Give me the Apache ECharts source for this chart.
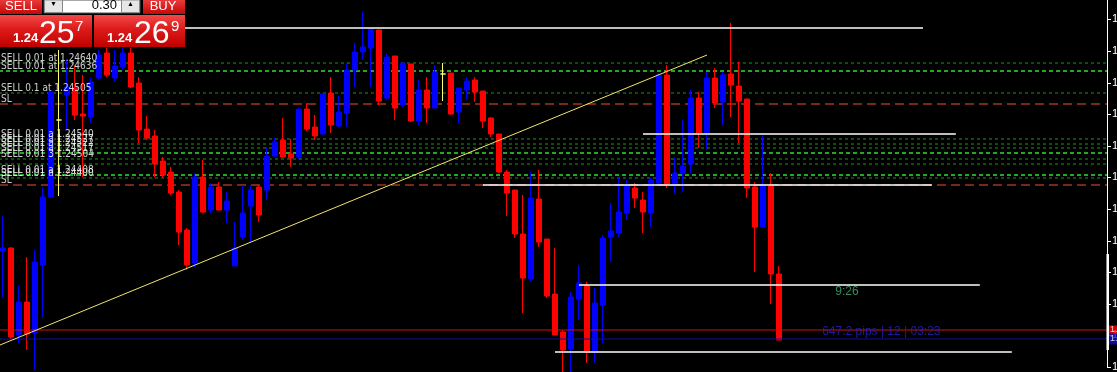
<!DOCTYPE html>
<html><head><meta charset="utf-8">
<script src="https://cdn.jsdelivr.net/npm/echarts@6/dist/echarts.min.js"></script>
<style>html,body{margin:0;padding:0;background:#000;}#c{width:1117px;height:372px;}</style>
</head><body><div id="c"></div>
<script>
// ---- candle data (bar index = position in arrays) ----
const opens  = [1.24349,1.24352,1.24265,1.24298,1.24267,1.24335,1.24403,1.24480,1.24505,1.24512,
1.24486,1.24483,1.24522,1.24547,1.24522,1.24533,1.24547,1.24517,1.24471,1.24464,
1.24439,1.24428,1.24408,1.24370,1.24337,1.24423,1.24390,1.24413,1.24390,1.24334,
1.24363,1.24394,1.24413,1.24410,1.24444,1.24460,1.24446,1.24443,1.24491,1.24473,
1.24466,1.24507,1.24474,1.24487,1.24530,1.24548,1.24552,1.24570,1.24502,1.24544,
1.24495,1.24536,1.24479,1.24510,1.24492,1.24526,1.24527,1.24488,1.24510,1.24520,
1.24509,1.24482,1.24466,1.24428,1.24410,1.24366,1.24321,1.24401,1.24361,1.24306,
1.24268,1.24251,1.24301,1.24314,1.24248,1.24295,1.24363,1.24367,1.24387,1.24412,
1.24400,1.24387,1.24417,1.24525,1.24416,1.24427,1.24436,1.24502,1.24467,1.24522,
1.24498,1.24526,1.24514,1.24501,1.24413,1.24373,1.24414,1.24326];
const closes = [1.24352,1.24263,1.24298,1.24266,1.24338,1.24403,1.24508,1.24480,1.24513,1.24485,
1.24484,1.24518,1.24545,1.24525,1.24534,1.24547,1.24513,1.24470,1.24462,1.24436,
1.24425,1.24407,1.24368,1.24335,1.24423,1.24388,1.24413,1.24390,1.24399,1.24352,
1.24387,1.24410,1.24385,1.24444,1.24458,1.24443,1.24442,1.24491,1.24471,1.24464,
1.24506,1.24475,1.24488,1.24530,1.24548,1.24553,1.24571,1.24499,1.24543,1.24492,
1.24537,1.24479,1.24510,1.24492,1.24528,1.24526,1.24486,1.24512,1.24519,1.24508,
1.24479,1.24466,1.24428,1.24407,1.24366,1.24322,1.24402,1.24358,1.24304,1.24265,
1.24250,1.24303,1.24317,1.24248,1.24297,1.24362,1.24369,1.24388,1.24414,1.24402,
1.24388,1.24420,1.24525,1.24416,1.24427,1.24434,1.24502,1.24467,1.24522,1.24497,
1.24525,1.24515,1.24499,1.24412,1.24373,1.24415,1.24326,1.24260];
const lows   = [1.24302,1.24261,1.24257,1.24250,1.24230,1.24282,1.24402,1.24404,1.24470,1.24480,
1.24423,1.24477,1.24520,1.24523,1.24518,1.24530,1.24512,1.24457,1.24460,1.24423,
1.24423,1.24405,1.24355,1.24330,1.24333,1.24387,1.24387,1.24390,1.24377,1.24334,
1.24360,1.24357,1.24378,1.24400,1.24443,1.24442,1.24433,1.24441,1.24469,1.24460,
1.24465,1.24467,1.24473,1.24473,1.24513,1.24540,1.24513,1.24495,1.24500,1.24480,
1.24493,1.24478,1.24475,1.24477,1.24492,1.24499,1.24485,1.24477,1.24500,1.24498,
1.24472,1.24463,1.24427,1.24384,1.24362,1.24287,1.24318,1.24353,1.24302,1.24265,
1.24228,1.24228,1.24280,1.24237,1.24237,1.24257,1.24338,1.24363,1.24380,1.24392,
1.24367,1.24373,1.24415,1.24412,1.24407,1.24408,1.24427,1.24452,1.24450,1.24492,
1.24475,1.24483,1.24457,1.24402,1.24328,1.24372,1.24296,1.24260];
const highs  = [1.24384,1.24353,1.24314,1.24343,1.24350,1.24413,1.24510,1.24550,1.24540,1.24535,
1.24525,1.24522,1.24550,1.24555,1.24550,1.24555,1.24555,1.24523,1.24484,1.24470,
1.24443,1.24433,1.24410,1.24372,1.24427,1.24440,1.24417,1.24418,1.24408,1.24378,
1.24415,1.24415,1.24415,1.24453,1.24462,1.24482,1.24461,1.24492,1.24497,1.24485,
1.24507,1.24523,1.24504,1.24537,1.24557,1.24588,1.24572,1.24570,1.24547,1.24544,
1.24537,1.24536,1.24520,1.24523,1.24535,1.24537,1.24527,1.24512,1.24523,1.24523,
1.24509,1.24483,1.24466,1.24430,1.24410,1.24405,1.24428,1.24430,1.24361,1.24352,
1.24270,1.24308,1.24335,1.24318,1.24312,1.24365,1.24397,1.24423,1.24420,1.24417,
1.24408,1.24422,1.24527,1.24535,1.24443,1.24480,1.24510,1.24508,1.24528,1.24532,
1.24528,1.24577,1.24538,1.24501,1.24418,1.24464,1.24427,1.24334];

// ---- price axis ----
const priceTicks = [1.24233,1.24265,1.24296,1.24328,1.24359,1.24391,1.24423,1.24454,1.24486,1.24517,1.24549,1.24581];
const priceMin = 1.24233, priceMax = 1.24600;
const barSlots = 138;

// ---- current quotes ----
const askPrice = 1.24270, bidPrice = 1.24261;
const sellQuote = ['1.24', '25', '7'];
const buyQuote  = ['1.24', '26', '9'];
const lotSize = '0.30';

// ---- orders (green) and stops (red dashed) ----
const orderLevels = [1.24537,1.24529,1.24507,1.24461,1.24456,1.24452,1.24447,1.24441,1.24436,1.24425,1.24422];
const orderLabels = ['SELL 0.01 at 1.24640','SELL 0.01 at 1.24636','SELL 0.1 at 1.24505','SELL 0.01 a 1.24540',
 'SELL 0.01 a 1.24527','SELL 0.01 a 1.24522','SELL 0.01 a 1.24517','SELL 0.01 3 1.24504','','SELL 0.01 a 1.24408','SELL 0.01 a 1.24400'];
const orderBright = [0,1,0,0,0,0,1,0,0,1,0];
const stopLevels = [1.24496, 1.24415];

// ---- drawn objects ----
const segStart = [-0.5, 80, 60, 72, 69];
const segEnd   = [115, 119.1, 116.1, 122.1, 126.1];
const segPrice = [1.24572, 1.24466, 1.24415, 1.24315, 1.24248];
const trendFrom = [-0.375, 1.24255];
const trendTo   = [88, 1.24545];
const axisMarkRange = [1.24346, 1.24250];
const notes = [
  {x: 105.5, y: 1.24308, text: '9:26', color: '#3cb371', align: 'center'},
  {x: 102.4, y: 1.24268, text: '647.2 pips | 12 | 03:23', color: '#2323c8', align: 'left'}
];

const chart = echarts.init(document.getElementById('c'), null, {renderer: 'canvas'});
const FONT = '"Liberation Sans", Arial, sans-serif';
const NARROW = '"Liberation Sans Narrow", "DejaVu Sans Condensed", "Liberation Sans", sans-serif';

const candleData = opens.map((o, i) => [i, o, closes[i], lows[i], highs[i]]);

function hLine(price, from, to, lineStyle, z) {
  return {type: 'line', z: z, symbol: 'none', silent: true, clip: false, animation: false,
    lineStyle: lineStyle, data: [[from, price], [to, price]]};
}

const levelSeries = [];
orderLevels.forEach((p, i) => levelSeries.push(hLine(p, -0.5, barSlots,
  orderBright[i] ? {color: '#22a822', type: [4, 3], width: 2} : {color: '#1f931f', type: [3, 3], width: 1}, 1)));
stopLevels.forEach(p => levelSeries.push(hLine(p, -0.5, barSlots, {color: '#f0502a', type: [9, 5], width: 1}, 1)));
levelSeries.push(hLine(askPrice, -0.5, barSlots, {color: '#d01010', width: 1}, 3));
levelSeries.push(hLine(bidPrice, -0.5, barSlots, {color: '#1010a0', width: 1}, 3));

const textLabels = [];
orderLevels.forEach((p, i) => { if (orderLabels[i]) textLabels.push({t: orderLabels[i], p: p}); });
stopLevels.forEach(p => textLabels.push({t: 'SL', p: p}));

const segSeries = segPrice.map((p, i) => hLine(p, segStart[i], segEnd[i], {color: '#ffffff', width: 1.6}, 5));

const gradRed = new echarts.graphic.LinearGradient(0, 0, 0, 1, [
  {offset: 0, color: '#f24848'}, {offset: 0.45, color: '#dc1a1a'}, {offset: 1, color: '#c00000'}]);
const gradRedSmall = new echarts.graphic.LinearGradient(0, 0, 0, 1, [
  {offset: 0, color: '#e83a3a'}, {offset: 1, color: '#c40808'}]);

const option = {
  backgroundColor: '#000000',
  animation: false,
  grid: {left: -1, right: 10, top: 0, bottom: 5, containLabel: false, outerBoundsMode: 'none'},
  xAxis: [{
    type: 'value', min: -0.5, max: barSlots, show: false,
    splitLine: {show: false}
  }],
  yAxis: [{
    type: 'value', position: 'right', min: priceMin, max: priceMax,
    axisLine: {show: true, onZero: false, lineStyle: {color: '#ffffff', width: 1}},
    axisTick: {show: true, length: 4, lineStyle: {color: '#ffffff'}, customValues: priceTicks},
    axisLabel: {show: true, color: '#ffffff', fontSize: 11, fontFamily: FONT, margin: 5,
      customValues: priceTicks, formatter: v => v.toFixed(5)},
    splitLine: {show: false}
  }],
  series: [
    ...levelSeries,
    {
      type: 'candlestick', z: 2, silent: true, clip: false,
      encode: {x: 0, y: [1, 2, 3, 4]},
      barWidth: 5,
      itemStyle: {
        color: '#0000ff', color0: '#ff0000',
        borderColor: '#0000ff', borderColor0: '#ff0000', borderColorDoji: '#ffff70', borderWidth: 1
      },
      data: candleData
    },
    ...segSeries,
    {
      type: 'line', z: 5, symbol: 'none', silent: true, clip: false,
      lineStyle: {color: '#f2e46a', width: 1},
      data: [trendFrom, trendTo]
    },
    {
      type: 'line', z: 6, symbol: 'none', silent: true, clip: false,
      lineStyle: {color: '#ffffff', width: 3},
      data: [[barSlots + 0.12, axisMarkRange[0]], [barSlots + 0.12, axisMarkRange[1]]]
    },
    {
      type: 'scatter', z: 7, symbolSize: 0, silent: true, clip: false,
      data: notes.map(n => ({value: [n.x, n.y],
        label: {show: true, position: 'inside', formatter: n.text, color: n.color, align: n.align,
          fontSize: 12, fontFamily: FONT}}))
    },
    {
      type: 'scatter', z: 8, symbolSize: 0, silent: true, clip: false,
      data: textLabels.map(l => ({value: [-0.25, l.p],
        label: {show: true, position: [0, 0], formatter: l.t, color: '#ffffff', align: 'left', verticalAlign: 'bottom',
          fontSize: 10, fontFamily: NARROW}}))
    },
    {
      type: 'scatter', z: 9, symbolSize: 0, silent: true, clip: false,
      data: [
        {value: [barSlots + 0.25, askPrice], label: {show: true, position: [0, 0], formatter: askPrice.toFixed(5),
          color: '#ffffff', backgroundColor: '#ff0000', fontSize: 9, padding: [0, 1], align: 'left', verticalAlign: 'middle', fontFamily: FONT}},
        {value: [barSlots + 0.25, bidPrice], label: {show: true, position: [0, 0], formatter: bidPrice.toFixed(5),
          color: '#ffffff', backgroundColor: '#1010c0', fontSize: 9, padding: [1, 1], align: 'left', verticalAlign: 'middle', fontFamily: FONT}}
      ]
    }
  ],
  graphic: [
    {type: 'rect', z: 100, shape: {x: 0, y: 0, width: 185, height: 48}, style: {fill: '#000'}},
    {type: 'rect', z: 101, shape: {x: 0, y: 0, width: 42, height: 14}, style: {fill: gradRedSmall}},
    {type: 'text', z: 102, x: 21, y: 6, style: {text: 'SELL', fill: '#ffffff', font: '13px ' + FONT, align: 'center', verticalAlign: 'middle'}},
    {type: 'rect', z: 101, shape: {x: 44, y: 0, width: 96, height: 13}, style: {fill: '#ffffff', stroke: '#505050', lineWidth: 1}},
    {type: 'rect', z: 102, shape: {x: 44.5, y: 0, width: 18, height: 12.5}, style: {fill: '#e6e6e6', stroke: '#8a8a8a', lineWidth: 1}},
    {type: 'rect', z: 102, shape: {x: 121.5, y: 0, width: 18, height: 12.5}, style: {fill: '#e6e6e6', stroke: '#8a8a8a', lineWidth: 1}},
    {type: 'text', z: 103, x: 53.5, y: 4, style: {text: '▼', fill: '#000', font: '7px ' + FONT, align: 'center', verticalAlign: 'middle'}},
    {type: 'text', z: 103, x: 130.5, y: 4, style: {text: '▲', fill: '#000', font: '7px ' + FONT, align: 'center', verticalAlign: 'middle'}},
    {type: 'text', z: 103, x: 117, y: 5, style: {text: lotSize, fill: '#000', font: '13px ' + FONT, align: 'right', verticalAlign: 'middle'}},
    {type: 'rect', z: 101, shape: {x: 143, y: 0, width: 42, height: 14}, style: {fill: gradRedSmall}},
    {type: 'text', z: 102, x: 163, y: 6, style: {text: 'BUY', fill: '#ffffff', font: '13px ' + FONT, align: 'center', verticalAlign: 'middle'}},
    {type: 'rect', z: 101, shape: {x: 0, y: 15, width: 92, height: 32}, style: {fill: gradRed}},
    {type: 'rect', z: 101, shape: {x: 94, y: 15, width: 91, height: 32}, style: {fill: gradRed}},
    {type: 'text', z: 102, x: 13, y: 45, style: {text: sellQuote[0], fill: '#fff', font: 'bold 13px ' + FONT, verticalAlign: 'bottom'}},
    {type: 'text', z: 102, x: 39, y: 50, style: {text: sellQuote[1], fill: '#fff', font: '32px ' + FONT, verticalAlign: 'bottom'}},
    {type: 'text', z: 102, x: 75, y: 19, style: {text: sellQuote[2], fill: '#fff', font: '15px ' + FONT, verticalAlign: 'top'}},
    {type: 'text', z: 102, x: 107, y: 45, style: {text: buyQuote[0], fill: '#fff', font: 'bold 13px ' + FONT, verticalAlign: 'bottom'}},
    {type: 'text', z: 102, x: 134, y: 50, style: {text: buyQuote[1], fill: '#fff', font: '32px ' + FONT, verticalAlign: 'bottom'}},
    {type: 'text', z: 102, x: 171, y: 19, style: {text: buyQuote[2], fill: '#fff', font: '15px ' + FONT, verticalAlign: 'top'}}
  ]
};
chart.setOption(option);
</script>
</body></html>
